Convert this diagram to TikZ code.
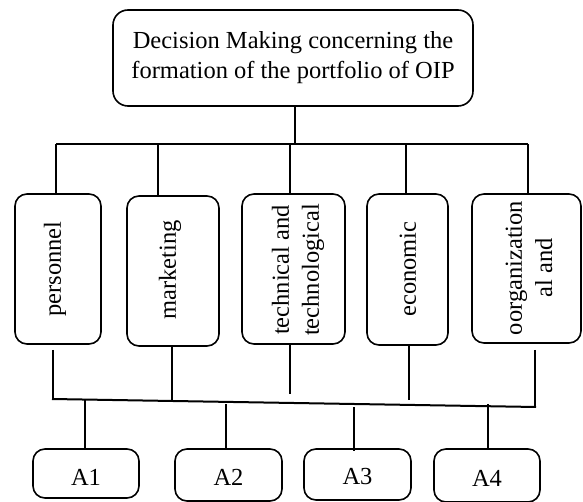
\documentclass[tikz,border=0pt]{standalone}
\usepackage{fontspec}
\setmainfont{Liberation Serif}
\begin{document}
\begin{tikzpicture}[x=1pt,y=-1pt,
  box/.style={draw, line width=1.6pt, rounded corners=12pt, inner sep=0pt},
  topbox/.style={box, rounded corners=15pt, align=center},
  vtext/.style={rotate=90, inner sep=0pt, align=center},
  conn/.style={line width=2pt},
  thick conn/.style={line width=2.6pt},
  every node/.style={font=\fontsize{24.5}{30}\selectfont}]
\useasboundingbox (0,0) rectangle (583,502);

% top box
\node[topbox, minimum width=360pt, minimum height=96pt] (top) at (293,58)
  {Decision Making concerning the\\formation of the portfolio of OIP};

% criteria boxes
\node[box, minimum width=86pt, minimum height=150pt] (per) at (58,269) {};
\node[vtext] (perT) at (55,269) {personnel};
\node[box, minimum width=92pt, minimum height=150pt] (mar) at (173,271) {};
\node[vtext] (marT) at (170,270) {marketing};
\node[box, minimum width=103pt, minimum height=150pt] (tec) at (293.5,269) {};
\node[vtext] (tecT) at (298,270) {technical and\\technological};
\node[box, minimum width=81pt, minimum height=151pt] (eco) at (407.5,269.5) {};
\node[vtext] (ecoT) at (408,269) {economic};
\node[box, minimum width=109pt, minimum height=149pt] (org) at (526.5,268.5) {};
\node[vtext] (orgT) at (529,268) {oorganization\\al and};

% alternatives
\node[box, minimum width=106pt, minimum height=49pt] (a1) at (86,473.5) {};
\node (a1T) at (86,477) {A1};
\node[box, minimum width=107pt, minimum height=52pt] (a2) at (228.5,475) {};
\node (a2T) at (228.5,477) {A2};
\node[box, minimum width=107pt, minimum height=51pt] (a3) at (357.5,474.5) {};
\node (a3T) at (357.5,477) {A3};
\node[box, minimum width=106pt, minimum height=53pt] (a4) at (487,475.5) {};
\node (a4T) at (487,478) {A4};

% upper bus
\coordinate (b0) at (295,144);
\coordinate (b1) at (56,144);
\coordinate (b2) at (158,144);
\coordinate (b3) at (290,144);
\coordinate (b4) at (406,144);
\coordinate (b5) at (528,144);
\draw[thick conn] (top.south -| b0) -- (b0);
\draw[conn] (b1) -- (b5);
\draw[conn] (b1) -- (b1 |- per.north);
\draw[conn] (b2) -- (b2 |- mar.north);
\draw[conn] (b3) -- (b3 |- tec.north);
\draw[conn] (b4) -- (b4 |- eco.north);
\draw[conn] (b5) -- (b5 |- org.north);

% lower bus
\coordinate (l1) at (53,399);
\coordinate (l2) at (172,401);
\coordinate (l3) at (290,394);
\coordinate (l4) at (409,400);
\coordinate (l5) at (535,407);
\draw[conn] ([yshift=-5pt]per.south -| l1) -- (l1);
\draw[conn] (mar.south -| l2) -- (l2);
\draw[conn] (tec.south -| l3) -- (l3);
\draw[conn] (eco.south -| l4) -- (l4);
\draw[thick conn] ([yshift=-6pt]org.south -| l5) -- (l5);
\draw[conn] ([xshift=-1pt]l1) -- ([xshift=1pt]l5);

% drops to alternatives
\coordinate (d1) at (85,399.5);
\coordinate (d2) at (226,404);
\coordinate (d3) at (354,407);
\coordinate (d4) at (488,404);
\draw[conn] (d1) -- (d1 |- a1.north);
\draw[thick conn] (d2) -- (d2 |- a2.north);
\draw[thick conn] (d3) -- ([yshift=-3pt]d3 |- a3.north);
\draw[conn] (d4) -- (d4 |- a4.north);
\end{tikzpicture}
\end{document}
